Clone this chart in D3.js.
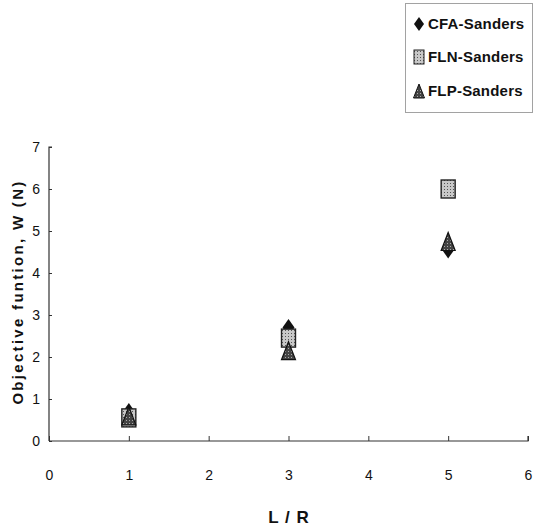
<!DOCTYPE html>
<html>
<head>
<meta charset="utf-8">
<script src="https://cdn.jsdelivr.net/npm/d3@7"></script>
<style>
  html, body { margin: 0; padding: 0; background: #fff; }
  svg { display: block; font-family: "Liberation Sans", Arial, sans-serif; }
</style>
</head>
<body>
<svg id="chart" width="534" height="528"></svg>
<script>
// L/R ratios tested
const ratios = [1, 3, 5];
// Objective function W (N) for each method
const cfaValues = [0.70, 2.70, 4.55];
const flnValues = [0.55, 2.45, 6.00];
const flpValues = [0.60, 2.15, 4.75];
const xTicks = [0, 1, 2, 3, 4, 5, 6];
const yTicks = [0, 1, 2, 3, 4, 5, 6, 7];
const seriesNames = ["CFA-Sanders", "FLN-Sanders", "FLP-Sanders"];

const svg = d3.select("#chart");
const x = d3.scaleLinear().domain([0, 6]).range([49, 528]);
const y = d3.scaleLinear().domain([0, 7]).range([441, 147]);

// dotted fills for the square and triangle markers
const defs = svg.append("defs");
const pat = defs.append("pattern").attr("id", "dots").attr("width", 3).attr("height", 3)
  .attr("patternUnits", "userSpaceOnUse");
pat.append("rect").attr("width", 3).attr("height", 3).attr("fill", "#c8c8c8");
pat.append("rect").attr("width", 1).attr("height", 1).attr("fill", "#555");
const pat2 = defs.append("pattern").attr("id", "dotsDark").attr("width", 3).attr("height", 3)
  .attr("patternUnits", "userSpaceOnUse");
pat2.append("rect").attr("width", 3).attr("height", 3).attr("fill", "#444");
pat2.append("rect").attr("width", 1).attr("height", 1).attr("fill", "#aaa");

// axes
const xAxis = d3.axisBottom(x).tickValues(xTicks).tickSize(-5).tickPadding(29)
  .tickFormat(d3.format("d"));
const yAxis = d3.axisLeft(y).tickValues(yTicks).tickSize(-3).tickPadding(9)
  .tickFormat(d3.format("d"));

const gx = svg.append("g").attr("transform", `translate(0,${y(0)})`).call(xAxis);
const gy = svg.append("g").attr("transform", `translate(${x(0)},0)`).call(yAxis);
[gx, gy].forEach(g => {
  g.select(".domain").attr("stroke", "#333").attr("stroke-width", 1.2);
  g.selectAll(".tick line").attr("stroke", "#333");
  g.selectAll(".tick text").attr("fill", "#111").attr("font-size", 14)
    .attr("font-family", "Liberation Sans, Arial, sans-serif");
});
gx.select(".domain").attr("d", `M${x(0)},0H${x(6)}V-5`);
gy.select(".domain").attr("d", `M3,${y(7)}H0V${y(0)}`);

// symbol shapes
function diamondPath(cx, cy, w, h) {
  return `M${cx},${cy - h / 2}L${cx + w / 2},${cy}L${cx},${cy + h / 2}L${cx - w / 2},${cy}Z`;
}
function trianglePath(cx, cy, w, h) {
  return `M${cx},${cy - h / 2}L${cx + w / 2},${cy + h / 2}L${cx - w / 2},${cy + h / 2}Z`;
}

const plot = svg.append("g");
plot.selectAll(".cfa").data(ratios.map((r, i) => [r, cfaValues[i]])).join("path")
  .attr("class", "cfa")
  .attr("d", d => diamondPath(x(d[0]), y(d[1]), 12, 17))
  .attr("fill", "#111");
plot.selectAll(".fln").data(ratios.map((r, i) => [r, flnValues[i]])).join("rect")
  .attr("class", "fln")
  .attr("x", d => x(d[0]) - 7).attr("y", d => y(d[1]) - 9)
  .attr("width", 14).attr("height", 18)
  .attr("fill", "url(#dots)").attr("stroke", "#222").attr("stroke-width", 1.4);
plot.selectAll(".flp").data(ratios.map((r, i) => [r, flpValues[i]])).join("path")
  .attr("class", "flp")
  .attr("d", d => trianglePath(x(d[0]), y(d[1]), 14, 18))
  .attr("fill", "url(#dotsDark)").attr("stroke", "#111").attr("stroke-width", 1.2);

// axis titles
svg.append("text").attr("x", 289).attr("y", 523).attr("text-anchor", "middle")
  .attr("font-size", 17).attr("font-weight", "bold").attr("fill", "#111")
  .attr("letter-spacing", 1).text("L / R");
svg.append("text").attr("transform", "translate(23,292) rotate(-90)")
  .attr("text-anchor", "middle").attr("font-size", 15).attr("font-weight", "bold")
  .attr("letter-spacing", 2.3).attr("fill", "#111")
  .text("Objective funtion, W (N)");

// legend
const legend = svg.append("g");
legend.append("rect").attr("x", 405.5).attr("y", 3.5).attr("width", 127).attr("height", 109)
  .attr("fill", "#fff").attr("stroke", "#444").attr("stroke-dasharray", "1,1");
const ly = [24, 57, 91];
seriesNames.forEach((name, i) => {
  const cx = 419, cy = ly[i];
  if (i === 0) legend.append("path").attr("d", diamondPath(cx, cy, 10, 14)).attr("fill", "#111");
  if (i === 1) legend.append("rect").attr("x", cx - 5).attr("y", cy - 7).attr("width", 10).attr("height", 14)
    .attr("fill", "url(#dots)").attr("stroke", "#222");
  if (i === 2) legend.append("path").attr("d", trianglePath(cx, cy, 11, 14))
    .attr("fill", "url(#dotsDark)").attr("stroke", "#111");
  legend.append("text").attr("x", 428).attr("y", cy + 5).attr("font-size", 15)
    .attr("font-weight", 600).attr("fill", "#111").attr("letter-spacing", 0.2).text(name);
});
</script>
</body>
</html>
